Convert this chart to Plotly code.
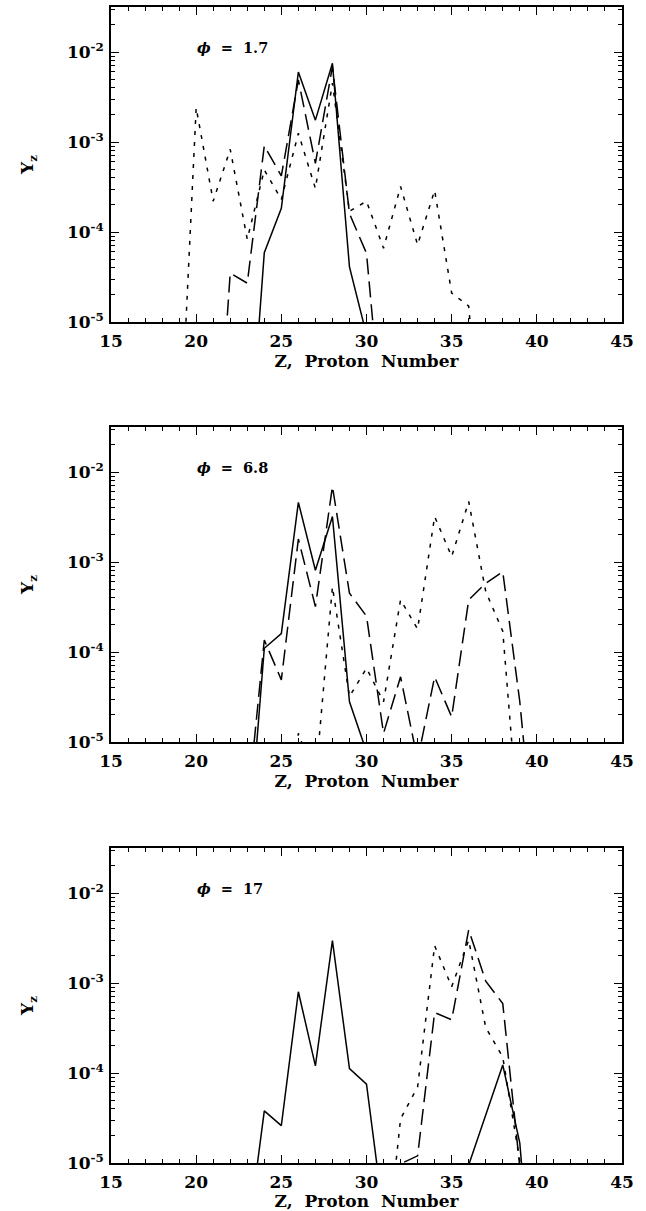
import plotly.graph_objects as go

# Proton number grids and abundances Y_Z for the three entropy values (phi)
phi_labels = ["1.7", "6.8", "17"]

# phi = 1.7
z_solid_1 = [23, 24, 25, 26, 27, 28, 29, 30]
y_solid_1 = [1.6e-7, 5.9e-5, 1.83e-4, 6.0e-3, 1.75e-3, 7.5e-3, 4.1e-5, 7.2e-6]
z_dash_1 = [21, 22, 23, 24, 25, 26, 27, 28, 29, 30, 31]
y_dash_1 = [6e-8, 3.5e-5, 2.7e-5, 9.1e-4, 4.2e-4, 4.9e-3, 5.8e-4, 6.9e-3, 1.6e-4, 5.8e-5, 5e-7]
z_dot_1 = [19, 20, 21, 22, 23, 24, 25, 26, 27, 28, 29, 30, 31, 32, 33, 34, 35, 36, 37]
y_dot_1 = [2.6e-7, 2.4e-3, 2.2e-4, 8.3e-4, 8.3e-5, 4.9e-4, 2.3e-4, 1.25e-3, 3.05e-4, 4.5e-3,
           1.7e-4, 2.2e-4, 6.6e-5, 3.2e-4, 7.2e-5, 2.9e-4, 2.1e-5, 1.5e-5, 1e-7]

# phi = 6.8
z_solid_2 = [23, 24, 25, 26, 27, 28, 29, 30]
y_solid_2 = [4.7e-7, 1.1e-4, 1.6e-4, 4.6e-3, 8.1e-4, 3.2e-3, 2.8e-5, 7.8e-6]
z_dash_2 = [23, 24, 25, 26, 27, 28, 29, 30, 31, 32, 33, 34, 35, 36, 37, 38, 39, 40]
y_dash_2 = [1.7e-6, 1.36e-4, 4.9e-5, 1.8e-3, 3.2e-4, 6.9e-3, 4.5e-4, 2.5e-4, 1.25e-5,
            5.3e-5, 6.3e-6, 5.3e-5, 1.9e-5, 3.8e-4, 5.8e-4, 7.8e-4, 2.8e-5, 3e-7]
z_dot_2 = [25, 26, 27, 28, 29, 30, 31, 32, 33, 34, 35, 36, 37, 38, 39]
y_dot_2 = [1e-7, 1.25e-5, 3.7e-6, 5.3e-4, 3.2e-5, 6.6e-5, 2.8e-5, 3.8e-4, 1.8e-4,
           3.2e-3, 1.15e-3, 4.7e-3, 4.7e-4, 1.7e-4, 7.9e-7]

# phi = 17
z_solid_3 = [23, 24, 25, 26, 27, 28, 29, 30, 31, 32, 33, 34, 35, 36, 37, 38, 39, 40]
y_solid_3 = [1.35e-6, 3.8e-5, 2.6e-5, 8.0e-4, 1.2e-4, 2.95e-3, 1.12e-4, 7.5e-5, 2.6e-6,
             1e-7, 1e-7, 1e-7, 1e-7, 9.5e-6, 3.5e-5, 1.23e-4, 1.66e-5, 1e-7]
z_dash_3 = [31, 32, 33, 34, 35, 36, 37, 38, 39, 40]
y_dash_3 = [1e-7, 9.8e-6, 1.2e-5, 4.7e-4, 3.9e-4, 3.9e-3, 1.05e-3, 5.9e-4, 9e-6, 1e-8]
z_dot_3 = [31, 32, 33, 34, 35, 36, 37, 38, 39, 40]
y_dot_3 = [5e-7, 3.1e-5, 7.0e-5, 2.6e-3, 9.1e-4, 3.0e-3, 3.2e-4, 1.5e-4, 1.05e-5, 1e-8]

panels = [
    (z_solid_1, y_solid_1, z_dash_1, y_dash_1, z_dot_1, y_dot_1),
    (z_solid_2, y_solid_2, z_dash_2, y_dash_2, z_dot_2, y_dot_2),
    (z_solid_3, y_solid_3, z_dash_3, y_dash_3, z_dot_3, y_dot_3),
]

y_major = [1e-5, 1e-4, 1e-3, 1e-2]
y_major_text = ["10<sup>-5</sup>", "10<sup>-4</sup>", "10<sup>-3</sup>", "10<sup>-2</sup>"]
y_minor = [k * 10.0 ** e for e in range(-5, -1) for k in range(2, 10)]

W, H = 646, 1211
x_left, x_right = 111, 622
panel_tops = [7, 427, 848]
panel_h = 315

FONT = "DejaVu Serif"
tick_font = dict(family=FONT, size=17, color="black", weight="bold")
label_font = dict(family=FONT, size=14.5, color="black", weight="bold")

fig = go.Figure()
line_styles = ["solid", "16px,7px", "4px,7px"]

for i, (zs, ys, zd, yd, zp, yp) in enumerate(panels):
    suffix = "" if i == 0 else str(i + 1)
    for (zz, yy), dash in zip([(zs, ys), (zd, yd), (zp, yp)], line_styles):
        fig.add_trace(go.Scatter(
            x=zz, y=yy, mode="lines",
            line=dict(color="black", width=1.5, dash=dash),
            xaxis="x" + suffix, yaxis="y" + suffix,
            showlegend=False, hoverinfo="skip",
        ))

    top = panel_tops[i]
    bottom = top + panel_h
    ydom = [(H - bottom) / H, (H - top) / H]

    xaxis = dict(
        domain=[x_left / W, x_right / W], range=[15, 45],
        anchor="y" + suffix,
        tickmode="linear", tick0=15, dtick=5,
        ticks="inside", ticklen=8, tickwidth=1.3, tickcolor="black",
        minor=dict(dtick=1, tick0=15, ticks="inside", ticklen=4, tickwidth=1.2, tickcolor="black"),
        showline=True, linecolor="black", linewidth=1.6, mirror="ticks",
        showgrid=False, zeroline=False,
        tickfont=tick_font, ticklabelstandoff=3,
        title=dict(text="Z,\u00a0 Proton\u00a0 Number", font=tick_font, standoff=1),
        automargin=False,
    )
    yaxis = dict(
        domain=ydom, type="log", range=[-5, -1.5],
        anchor="x" + suffix,
        tickmode="array", tickvals=y_major, ticktext=y_major_text,
        ticks="inside", ticklen=8, tickwidth=1.3, tickcolor="black",
        minor=dict(tickmode="array", tickvals=y_minor, ticks="inside", ticklen=4,
                   tickwidth=1.2, tickcolor="black"),
        showline=True, linecolor="black", linewidth=1.6, mirror="ticks",
        showgrid=False, zeroline=False,
        tickfont=tick_font, ticklabelstandoff=2,
        title=dict(text="Y<sub>z</sub>", font=tick_font, standoff=29),
        automargin=False,
    )
    fig.layout["xaxis" + suffix] = xaxis
    fig.layout["yaxis" + suffix] = yaxis

    fig.add_annotation(
        xref=("x" + suffix) + " domain", yref=("y" + suffix) + " domain",
        x=0.164, y=0.872, xanchor="left", yanchor="middle",
        text="<i>\u03d5</i>\u00a0 =\u00a0 " + phi_labels[i],
        showarrow=False, font=label_font,
    )

fig.update_layout(
    width=W, height=H,
    margin=dict(l=0, r=0, t=0, b=0),
    paper_bgcolor="white", plot_bgcolor="white",
)

fig.write_html("out.html")
